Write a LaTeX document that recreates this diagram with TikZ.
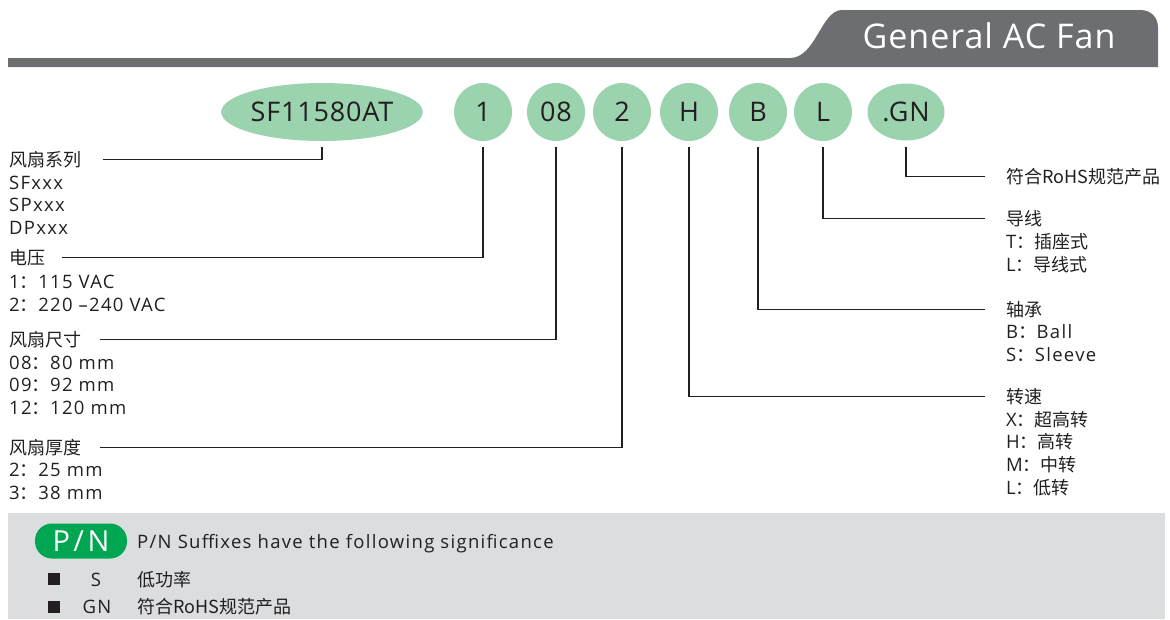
\documentclass[tikz,border=0pt]{standalone}
\usepackage{fontspec}
\setmainfont{Open Sans}[LetterSpace=7]
\newfontfamily\latn{Open Sans}[LetterSpace=3]
\newfontfamily\latp{Open Sans}[LetterSpace=12]
\newfontfamily\cjk{Noto Sans CJK SC}
\usetikzlibrary{shapes.geometric}
\definecolor{hdr}{HTML}{6D6E71}
\definecolor{ovalgreen}{HTML}{9BD3AF}
\definecolor{pngreen}{HTML}{00A651}
\definecolor{boxgray}{HTML}{DCDDDF}
\definecolor{ink}{HTML}{231F20}
\begin{document}
\begin{tikzpicture}[x=1pt,y=-1pt,
  txt/.style={anchor=base west, inner sep=0pt, font=\fontsize{18.5}{20}\selectfont, text=ink},
  ovalbox/.style={ellipse, fill=ovalgreen, inner sep=0pt, font=\latn\fontsize{27}{30}\selectfont, text=ink},
  circbox/.style={circle, fill=ovalgreen, inner sep=0pt, minimum size=58pt, font=\latn\fontsize{27}{30}\selectfont, text=ink},
  lead/.style={draw=ink, line width=1.1pt},
  bulletbox/.style={fill=ink, inner sep=0pt, minimum size=12pt}]
\useasboundingbox (0,0) rectangle (1170,619);
% header
\fill[hdr] (8,58) -- (790,58) .. controls (816,58) and (821,10) .. (842,10) -- (1140,10)
  .. controls (1151,10) and (1158,17) .. (1158,28) -- (1158,67) -- (8,67) -- cycle;
\node[font=\latn\fontsize{34}{36}\selectfont, text=white, inner sep=0pt] (title) at (989,36) {General AC Fan};
% ovals
\node[ovalbox, minimum width=184pt, minimum height=58pt] (sf) at (322,112) {SF11580AT};
\node[circbox] (v) at (483,112) {1};
\node[circbox] (sz) at (556,112) {08};
\node[circbox] (th) at (622,112) {2};
\node[circbox] (sp) at (689,112) {H};
\node[circbox] (br) at (758,112) {B};
\node[circbox] (ld) at (823,112) {L};
\node[ovalbox, minimum width=77pt, minimum height=57pt] (gn) at (906,112) {.GN};
% left labels
\node[txt] (hser) at (9,166) {\cjk\fontsize{18}{20}\selectfont 风扇系列};
\node[txt] (ser1) at (9,189) {SFxxx};
\node[txt] (ser2) at (9,211) {SPxxx};
\node[txt] (ser3) at (9,234) {DPxxx};
\node[txt] (hvol) at (9,264) {\cjk\fontsize{18}{20}\selectfont 电压};
\node[txt] (vol1) at (9,288) {1{\cjk ：}115 VAC};
\node[txt] (vol2) at (9,311) {2{\cjk ：}220 –240 VAC};
\node[txt] (hsz) at (9,346) {\cjk\fontsize{18}{20}\selectfont 风扇尺寸};
\node[txt] (sz1) at (9,369) {08{\cjk ：}80 mm};
\node[txt] (sz2) at (9,391) {09{\cjk ：}92 mm};
\node[txt] (sz3) at (9,414) {12{\cjk ：}120 mm};
\node[txt] (hth) at (9,454) {\cjk\fontsize{18}{20}\selectfont 风扇厚度};
\node[txt] (th1) at (9,476) {2{\cjk ：}25 mm};
\node[txt] (th2) at (9,499) {3{\cjk ：}38 mm};
% right labels
\node[txt] (hgn) at (1006,183) {\cjk\fontsize{18}{20}\selectfont 符合RoHS规范产品};
\node[txt] (hld) at (1006,225) {\cjk\fontsize{18}{20}\selectfont 导线};
\node[txt] (ld1) at (1006,248) {T{\cjk\fontsize{18}{20}\selectfont ：插座式}};
\node[txt] (ld2) at (1006,271) {L{\cjk\fontsize{18}{20}\selectfont ：导线式}};
\node[txt] (hbr) at (1006,316) {\cjk\fontsize{18}{20}\selectfont 轴承};
\node[txt] (br1) at (1006,338) {B{\cjk ：}Ball};
\node[txt] (br2) at (1006,361) {S{\cjk ：}Sleeve};
\node[txt] (hsp) at (1006,403) {\cjk\fontsize{18}{20}\selectfont 转速};
\node[txt] (sp1) at (1006,426) {X{\cjk\fontsize{18}{20}\selectfont ：超高转}};
\node[txt] (sp2) at (1006,448) {H{\cjk\fontsize{18}{20}\selectfont ：高转}};
\node[txt] (sp3) at (1006,471) {M{\cjk\fontsize{18}{20}\selectfont ：中转}};
\node[txt] (sp4) at (1006,494) {L{\cjk\fontsize{18}{20}\selectfont ：低转}};
% connectors
\draw[lead] ([yshift=-6pt]sf.south) |- ([xshift=22pt]hser.east);
\draw[lead] ([yshift=-6pt]v.south) |- ([xshift=17pt]hvol.east);
\draw[lead] ([yshift=-6pt]sz.south) |- ([xshift=19pt]hsz.east);
\draw[lead] ([yshift=-6pt]th.south) |- ([xshift=19pt]hth.east);
\draw[lead] ([yshift=-6pt]gn.south) |- ([xshift=-21pt]hgn.west);
\draw[lead] ([yshift=-6pt]ld.south) |- ([xshift=-21pt]hld.west);
\draw[lead] ([yshift=-6pt]br.south) |- ([xshift=-21pt]hbr.west);
\draw[lead] ([yshift=-6pt]sp.south) |- ([xshift=-21pt]hsp.west);
% bottom box
\fill[boxgray] (8,513) rectangle (1165,619);
\node[fill=pngreen, rounded corners=17pt, minimum width=92pt, minimum height=35pt, inner sep=0pt,
  text=white, font=\latp\fontsize{29}{30}\selectfont] (pn) at (81,541) {P/N};
\node[txt] (pndesc) at (137,548) {P/N Suffixes have the following significance};
\node[bulletbox] (b1) at (54,579) {};
\node[bulletbox] (b2) at (54,607) {};
\node[anchor=base, inner sep=0pt, font=\fontsize{18.5}{20}\selectfont, text=ink] (k1) at (96,586) {S};
\node[anchor=base, inner sep=0pt, font=\fontsize{18.5}{20}\selectfont, text=ink] (k2) at (97,613) {GN};
\node[txt] (d1) at (137,586) {\cjk\fontsize{18}{20}\selectfont 低功率};
\node[txt] (d2) at (137,613) {\cjk\fontsize{18}{20}\selectfont 符合RoHS规范产品};
\end{tikzpicture}
\end{document}
